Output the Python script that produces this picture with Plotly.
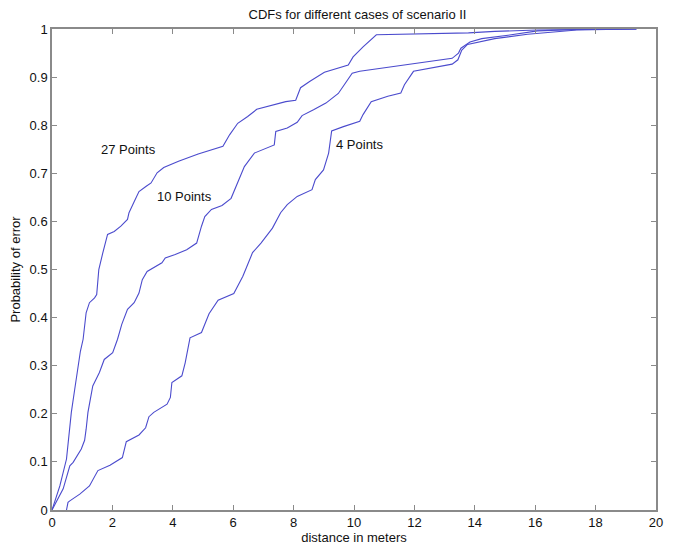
import plotly.graph_objects as go

# 27 Points curve
x27 = [0.0, 0.26, 0.48, 0.57, 0.64, 0.75, 0.89, 0.94, 1.03, 1.08, 1.13, 1.24, 1.41, 1.48, 1.52, 1.55, 1.68, 1.84,
       2.06, 2.28, 2.50, 2.55, 2.72, 2.88, 3.12, 3.28, 3.48, 3.70, 4.19, 4.84, 5.66, 5.88, 6.15, 6.48, 6.78,
       7.24, 7.74, 8.07, 8.23, 8.53, 9.02, 9.81, 9.97, 10.30, 10.74, 13.79, 14.66, 16.07, 19.35]
y27 = [0.0, 0.05, 0.106, 0.161, 0.203, 0.25, 0.313, 0.330, 0.355, 0.382, 0.410, 0.431, 0.441, 0.448, 0.472, 0.50,
       0.534, 0.573, 0.579, 0.590, 0.604, 0.618, 0.641, 0.662, 0.673, 0.680, 0.701, 0.712, 0.725, 0.740, 0.756,
       0.780, 0.804, 0.818, 0.833, 0.840, 0.849, 0.852, 0.878, 0.891, 0.910, 0.925, 0.942, 0.963, 0.988,
       0.992, 0.995, 0.998, 1.0]

# 10 Points curve
x10 = [0.0, 0.37, 0.59, 0.70, 0.97, 1.08, 1.13, 1.19, 1.35, 1.57, 1.73, 2.01, 2.17, 2.31, 2.50, 2.72, 2.88, 2.99,
       3.15, 3.48, 3.64, 3.75, 4.08, 4.46, 4.79, 4.95, 5.06, 5.28, 5.63, 5.93, 6.15, 6.37, 6.70, 7.08, 7.36,
       7.41, 7.79, 8.12, 8.28, 8.66, 9.07, 9.48, 9.94, 10.19, 13.25, 13.46, 13.54, 13.84, 14.23, 15.21, 16.08,
       17.38, 19.35]
y10 = [0.0, 0.044, 0.092, 0.099, 0.127, 0.145, 0.168, 0.203, 0.258, 0.286, 0.313, 0.327, 0.355, 0.386, 0.417,
       0.431, 0.451, 0.479, 0.496, 0.507, 0.514, 0.524, 0.531, 0.541, 0.555, 0.590, 0.610, 0.625, 0.633, 0.648,
       0.680, 0.714, 0.742, 0.752, 0.759, 0.787, 0.794, 0.806, 0.820, 0.832, 0.846, 0.866, 0.908, 0.912, 0.939,
       0.950, 0.960, 0.973, 0.980, 0.988, 0.996, 0.999, 1.0]

# 4 Points curve
x4 = [0.48, 0.53, 0.59, 0.92, 1.24, 1.52, 1.92, 2.33, 2.46, 2.88, 3.10, 3.21, 3.37, 3.81, 3.92, 3.97, 4.30, 4.41,
      4.57, 4.95, 5.06, 5.20, 5.50, 6.02, 6.32, 6.64, 6.92, 7.30, 7.57, 7.79, 8.12, 8.61, 8.72, 8.99, 9.16,
      9.26, 9.65, 10.19, 10.30, 10.57, 11.12, 11.55, 11.67, 11.88, 11.97, 13.25, 13.44, 13.57, 13.76, 14.66,
      15.75, 17.38, 19.35]
y4 = [0.0, 0.016, 0.019, 0.033, 0.050, 0.082, 0.093, 0.109, 0.142, 0.156, 0.171, 0.194, 0.203, 0.220, 0.234,
      0.265, 0.279, 0.306, 0.358, 0.369, 0.386, 0.408, 0.436, 0.450, 0.486, 0.535, 0.555, 0.586, 0.618, 0.635,
      0.652, 0.666, 0.687, 0.707, 0.742, 0.788, 0.797, 0.808, 0.822, 0.849, 0.860, 0.867, 0.884, 0.905, 0.912,
      0.927, 0.936, 0.956, 0.968, 0.980, 0.989, 0.998, 1.0]

labels = ["27 Points", "10 Points", "4 Points"]
label_x = [2.52, 4.39, 10.18]
label_y = [0.749, 0.651, 0.759]

x_ticks = list(range(0, 21, 2))
y_ticks = [0, 0.1, 0.2, 0.3, 0.4, 0.5, 0.6, 0.7, 0.8, 0.9, 1]
y_tick_text = ["0", "0.1", "0.2", "0.3", "0.4", "0.5", "0.6", "0.7", "0.8", "0.9", "1"]

line_color = "rgb(75,75,205)"
font_family = "Liberation Sans, Arial, sans-serif"

fig = go.Figure()
for xs, ys in [(x27, y27), (x10, y10), (x4, y4)]:
    fig.add_trace(go.Scatter(x=xs, y=ys, mode="lines",
                             line=dict(color=line_color, width=1.1), showlegend=False))

for t, lx, ly in zip(labels, label_x, label_y):
    fig.add_annotation(x=lx, y=ly, text=t, showarrow=False,
                       font=dict(family=font_family, size=13, color="#111"))

axis_common = dict(showline=True, linecolor="#8a8a8a", linewidth=1.5, mirror="ticks",
                   ticks="inside", ticklen=5, tickcolor="#8a8a8a", tickwidth=1,
                   showgrid=False, zeroline=False,
                   tickfont=dict(family=font_family, size=13, color="#111"))

fig.update_layout(
    width=673, height=553, autosize=False,
    margin=dict(l=52, r=10, t=29, b=42),
    paper_bgcolor="white", plot_bgcolor="white",
    title=dict(text="CDFs for different cases of scenario II", x=(52 + 663) / 2 / 673, xanchor="center",
               y=1 - 14 / 553, yanchor="middle", yref="container",
               font=dict(family=font_family, size=13, color="#111")),
    xaxis=dict(range=[0, 20], tickvals=x_ticks, ticktext=[str(v) for v in x_ticks],
               title=dict(text="distance in meters", standoff=4,
                          font=dict(family=font_family, size=13, color="#111")),
               **axis_common),
    yaxis=dict(range=[0, 1], tickvals=y_ticks, ticktext=y_tick_text,
               title=dict(text="Probability of error", standoff=6,
                          font=dict(family=font_family, size=13, color="#111")),
               **axis_common),
)

fig.write_html("out.html")
